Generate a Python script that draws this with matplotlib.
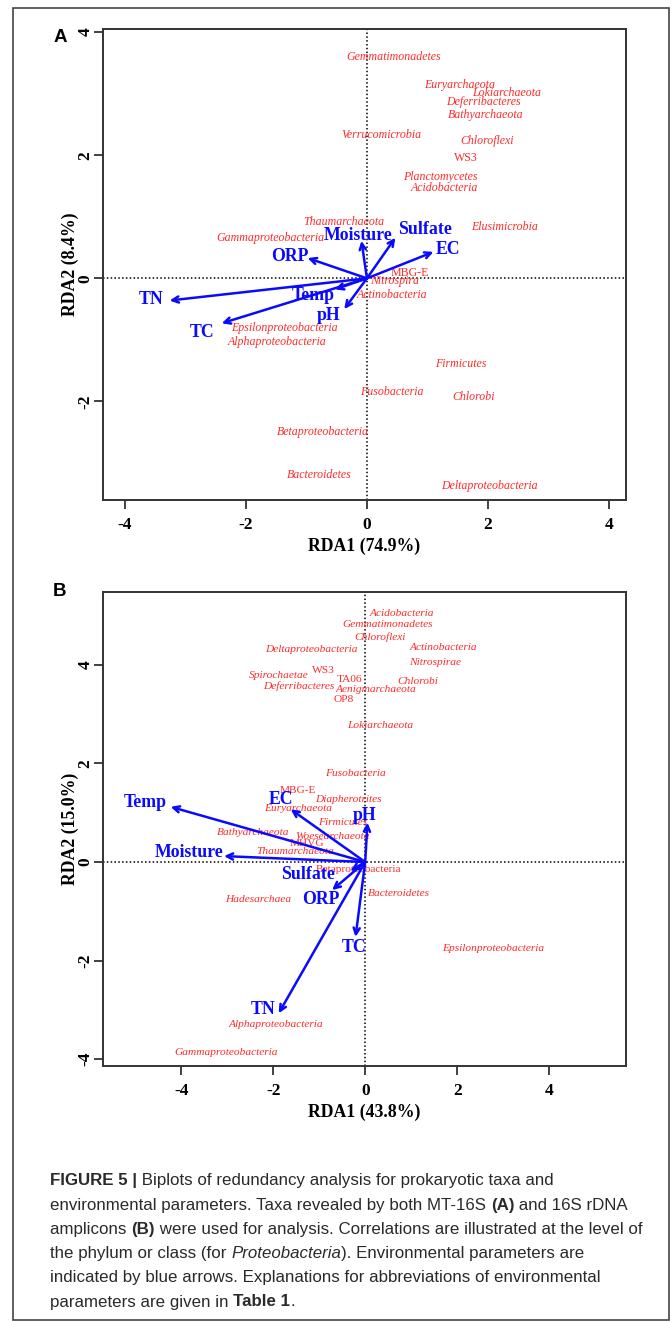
import matplotlib
matplotlib.use("Agg")
import matplotlib.pyplot as plt
from matplotlib.patches import Rectangle

# ---------------- data ----------------
# Panel A (MT-16S)
a_taxa = ["Gemmatimonadetes", "Euryarchaeota", "Lokiarchaeota", "Deferribacteres",
          "Bathyarchaeota", "Verrucomicrobia", "Chloroflexi", "WS3", "Planctomycetes",
          "Acidobacteria", "Thaumarchaeota", "Elusimicrobia", "Gammaproteobacteria",
          "MBG-E", "Nitrospira", "Actinobacteria", "Epsilonproteobacteria",
          "Alphaproteobacteria", "Firmicutes", "Fusobacteria", "Chlorobi",
          "Betaproteobacteria", "Bacteroidetes", "Deltaproteobacteria"]
a_tx = [0.44, 1.53, 2.31, 1.92, 1.97, 0.24, 1.98, 1.64, 1.21, 1.28, -0.375, 2.28, -1.59,
        0.71, 0.46, 0.42, -1.36, -1.48, 1.55, 0.41, 1.77, -0.73, -0.78, 2.03]
a_ty = [3.60, 3.14, 3.01, 2.86, 2.65, 2.33, 2.23, 1.95, 1.65, 1.46, 0.92, 0.83, 0.66,
        0.09, -0.05, -0.27, -0.81, -1.03, -1.39, -1.84, -1.92, -2.50, -3.20, -3.38]

a_env = ["TN", "TC", "Temp", "pH", "ORP", "Moisture", "Sulfate", "EC"]
a_ex = [-3.26, -2.40, -0.53, -0.375, -0.98, -0.09, 0.47, 1.10]
a_ey = [-0.36, -0.73, -0.18, -0.50, 0.33, 0.61, 0.66, 0.43]
a_lx = [-3.57, -2.72, -0.89, -0.63, -1.27, -0.14, 0.96, 1.34]
a_ly = [-0.34, -0.88, -0.28, -0.61, 0.35, 0.69, 0.80, 0.47]

# Panel B (16S rDNA)
b_taxa = ["Acidobacteria", "Gemmatimonadetes", "Chloroflexi", "Deltaproteobacteria",
          "Actinobacteria", "Nitrospirae", "WS3", "Spirochaetae", "TA06", "Chlorobi",
          "Deferribacteres", "Aenigmarchaeota", "OP8", "Lokiarchaeota", "Fusobacteria",
          "MBG-E", "Diapherotrites", "Euryarchaeota", "Firmicutes", "Bathyarchaeota",
          "Woesearchaeota", "MHVG", "Thaumarchaeota", "Betaproteobacteria",
          "Hadesarchaea", "Bacteroidetes", "Epsilonproteobacteria",
          "Alphaproteobacteria", "Gammaproteobacteria"]
b_tx = [0.79, 0.48, 0.32, -1.17, 1.70, 1.53, -0.91, -1.87, -0.34, 1.15, -1.45, 0.23,
        -0.47, 0.32, -0.21, -1.46, -0.37, -1.46, -0.48, -2.44, -0.70, -1.27, -1.52,
        -0.15, -2.33, 0.73, 2.78, -1.93, -3.02]
b_ty = [5.04, 4.82, 4.56, 4.32, 4.35, 4.05, 3.89, 3.78, 3.71, 3.66, 3.57, 3.50, 3.30,
        2.77, 1.80, 1.45, 1.26, 1.08, 0.80, 0.60, 0.52, 0.37, 0.22, -0.16, -0.76,
        -0.64, -1.76, -3.29, -3.87]

b_env = ["Temp", "EC", "pH", "Moisture", "Sulfate", "ORP", "TC", "TN"]
b_ex = [-4.23, -1.62, 0.05, -3.07, -0.32, -0.72, -0.21, -1.88]
b_ey = [1.12, 1.07, 0.80, 0.12, -0.18, -0.57, -1.52, -3.07]
b_lx = [-4.78, -1.83, -0.01, -3.83, -1.25, -0.97, -0.24, -2.21]
b_ly = [1.21, 1.26, 0.95, 0.19, -0.26, -0.76, -1.74, -2.99]

upright = {"WS3", "MBG-E", "TA06", "OP8", "MHVG", "Betaproteobacteria_B"}

x_ticks = [-4, -2, 0, 2, 4]
a_yticks = [-2, 0, 2, 4]
b_yticks = [-4, -2, 0, 2, 4]
a_xlabel, a_ylabel = "RDA1 (74.9%)", "RDA2 (8.4%)"
b_xlabel, b_ylabel = "RDA1 (43.8%)", "RDA2 (15.0%)"

# ---------------- figure ----------------
W, H = 672, 1321
fig = plt.figure(figsize=(W / 100, H / 100), dpi=100)
SERIF = "Liberation Serif"
RED = "#ff2a2a"
BLUE = "#0a0aff"


def px_axes(l, t, r, b):
    return fig.add_axes([l / W, 1 - b / H, (r - l) / W, (b - t) / H])


def draw_panel(ax, taxa, tx, ty, env, ex, ey, lx, ly, xlim, ylim, yticks,
               xlabel, ylabel, tsize, panel):
    ax.set_xlim(*xlim)
    ax.set_ylim(*ylim)
    ax.axhline(0, color="black", ls=(0, (1, 1.5)), lw=1.1, zorder=1)
    ax.axvline(0, color="black", ls=(0, (1, 1.5)), lw=1.1, zorder=1)
    for name, x, y in zip(taxa, tx, ty):
        key = name + "_B" if (panel == "B" and name == "Betaproteobacteria") else name
        style = "normal" if (name in upright or key in upright) else "italic"
        ax.text(x, y, name, color=RED, fontsize=tsize, fontstyle=style,
                family=SERIF, ha="center", va="center", zorder=3)
    for name, x, y, tx_, ty_ in zip(env, ex, ey, lx, ly):
        ax.annotate("", xy=(x, y), xytext=(0, 0),
                    arrowprops=dict(arrowstyle="->,head_length=0.45,head_width=0.22",
                                    color=BLUE, lw=1.8, shrinkA=0, shrinkB=0),
                    zorder=4)
        ax.text(tx_, ty_, name, color=BLUE, fontsize=12.8, fontweight="bold",
                family=SERIF, ha="center", va="center", zorder=5)
    ax.set_xticks(x_ticks)
    ax.set_yticks(yticks)
    ax.set_xticklabels([str(v) for v in x_ticks], family=SERIF, fontweight="bold",
                       fontsize=12.5)
    ax.set_yticklabels([str(v) for v in yticks], family=SERIF, fontweight="bold",
                       fontsize=12.5, rotation=90, va="center")
    ax.tick_params(direction="out", length=6.5, width=1.3, color="#333333")
    ax.tick_params(axis="x", pad=6)
    ax.tick_params(axis="y", pad=0.5)
    ax.set_xlabel(xlabel, family=SERIF, fontweight="bold", fontsize=12.8, labelpad=3)
    ax.set_ylabel(ylabel, family=SERIF, fontweight="bold", fontsize=12.8, labelpad=-1)
    for s in ax.spines.values():
        s.set_linewidth(1.4)
        s.set_color("#333333")


axA = px_axes(103, 29, 626, 500)
draw_panel(axA, a_taxa, a_tx, a_ty, a_env, a_ex, a_ey, a_lx, a_ly,
           (-4.36, 4.28), (-3.6, 4.05), a_yticks, a_xlabel, a_ylabel, 8.6, "A")

axB = px_axes(103, 592, 626, 1066)
draw_panel(axB, b_taxa, b_tx, b_ty, b_env, b_ex, b_ey, b_lx, b_ly,
           (-5.70, 5.67), (-4.14, 5.48), b_yticks, b_xlabel, b_ylabel, 8.2, "B")

# outer frame
fig.patches.append(Rectangle((13 / W, 1 - 1320 / H), (669 - 13) / W, (1320 - 8) / H,
                             transform=fig.transFigure, fill=False, lw=1.2,
                             edgecolor="#444444"))

SANS = "Liberation Sans"
fig.text(60 / W, 1 - 38 / H, "A", family=SANS, fontweight="bold", fontsize=13.5,
         ha="center", va="center")
fig.text(60 / W, 1 - 592 / H, "B", family=SANS, fontweight="bold", fontsize=13.5,
         ha="center", va="center")

# caption
caption = [
    [("FIGURE 5 |", "bold", "normal"), (" Biplots of redundancy analysis for prokaryotic taxa and", "normal", "normal")],
    [("environmental parameters. Taxa revealed by both MT-16S ", "normal", "normal"), ("(A)", "bold", "normal"), (" and 16S rDNA", "normal", "normal")],
    [("amplicons ", "normal", "normal"), ("(B)", "bold", "normal"), (" were used for analysis. Correlations are illustrated at the level of", "normal", "normal")],
    [("the phylum or class (for ", "normal", "normal"), ("Proteobacteria", "normal", "italic"), ("). Environmental parameters are", "normal", "normal")],
    [("indicated by blue arrows. Explanations for abbreviations of environmental", "normal", "normal")],
    [("parameters are given in ", "normal", "normal"), ("Table 1", "bold", "normal"), (".", "normal", "normal")],
]
renderer = fig.canvas.get_renderer()
cap_size = 12.2
y0 = 1181
for i, line in enumerate(caption):
    x = 50
    y = y0 + i * 24.2
    for seg, wgt, sty in line:
        t = fig.text(x / W, 1 - y / H, seg, family=SANS, fontweight=wgt, fontstyle=sty,
                     fontsize=cap_size, color="#2a2a2a", ha="left", va="center")
        bb = t.get_window_extent(renderer=renderer)
        x += bb.width

fig.savefig("out.png", dpi=100)
